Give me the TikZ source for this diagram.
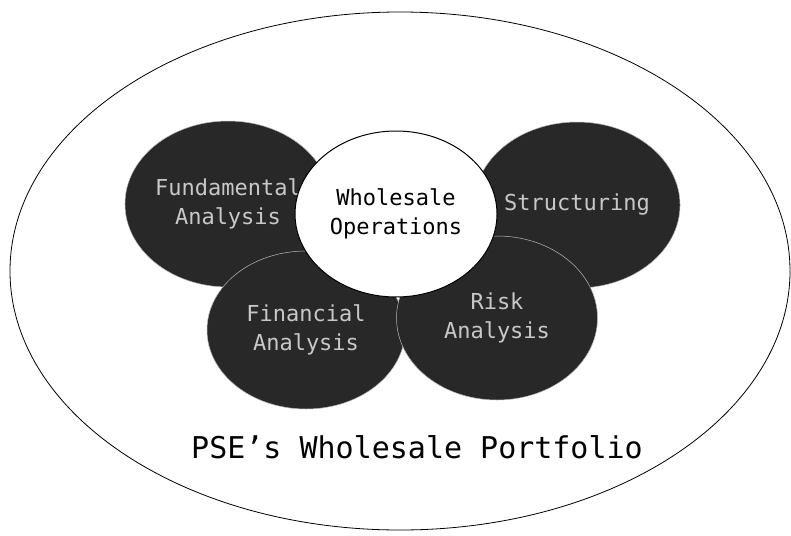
\documentclass[tikz,border=0pt]{standalone}
\usepackage{fontspec}
\usepackage{tikz}
\usetikzlibrary{shapes.geometric}
\newfontfamily\monofont{DejaVu Sans Mono}
\definecolor{blobfill}{RGB}{40, 40, 40}
\definecolor{blobtext}{RGB}{200, 200, 200}

\tikzset{
  blob/.style={ellipse, draw=gray!55, line width=0.5pt, fill=blobfill, text=blobtext,
    inner sep=0pt, align=center, font=\monofont\fontsize{22}{29}\selectfont},
  hub/.style={ellipse, draw=black, line width=1pt, fill=white, inner sep=0pt,
    align=center, font=\monofont\fontsize{22}{29}\selectfont}
}

\begin{document}
\begin{tikzpicture}[x=1pt, y=-1pt]
      \useasboundingbox (0,0) rectangle (791,535);
      \node[ellipse, draw, line width=0.8pt, minimum width=780pt, minimum height=518pt] (portfolio) at (400,271) {};
      \node[font=\monofont\fontsize{30}{36}\selectfont] (title) at (417,447) {PSE’s Wholesale Portfolio};
      % back row
      \node[blob, minimum width=196pt, minimum height=166pt] (fund) at (228,204) {Fundamental\\Analysis};
      \node[blob, minimum width=196pt, minimum height=166pt] (struct) at (577,205) {Structuring};
      % front row
      \node[blob, minimum width=198pt, minimum height=158pt] (fin) at (306,330) {Financial\\Analysis};
      \node[blob, minimum width=201pt, minimum height=164pt] (risk) at (497,318) {Risk\\Analysis};
      % centre
      \node[hub, minimum width=202pt, minimum height=166pt] (ops) at (396,214) {Wholesale\\Operations};
    \end{tikzpicture}
\end{document}
